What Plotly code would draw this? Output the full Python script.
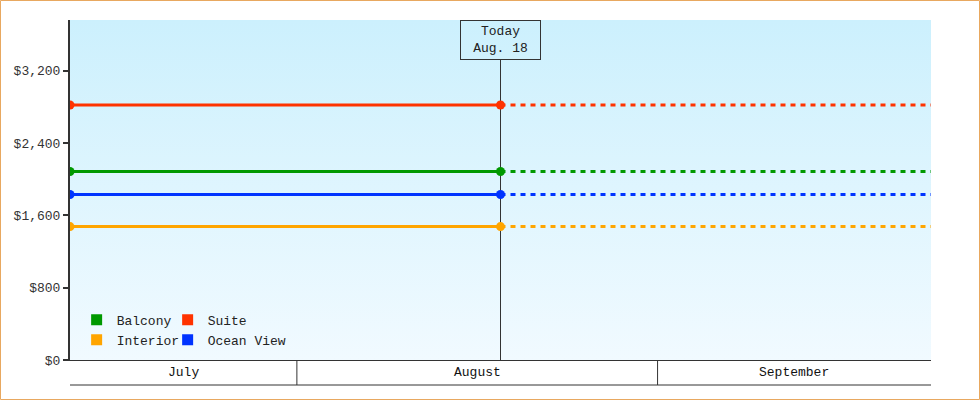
import pandas as pd
import plotly.graph_objects as go

# room types and their current price (flat line up to today, projected after)
room_types = ["Balcony", "Suite", "Interior", "Ocean View"]
prices = [2085, 2820, 1475, 1830]
line_colors = ["#009900", "#ff3300", "#ffa500", "#0033ff"]
legend_group = ["legend", "legend2", "legend", "legend2"]

today = pd.Timestamp("2024-08-18 12:00")
today_label = "Today<br>Aug. 18"
window_days = 37
months = ["July", "August", "September"]
month_starts = ["2024-07-01", "2024-08-01", "2024-09-01", "2024-10-01"]

y_max = 3760
y_ticks = [0, 800, 1600, 2400, 3200]

W, H = 980, 400
L, R, T, B = 70, 49, 20, 40
PW, PH = W - L - R, H - T - B

x_start = today - pd.Timedelta(days=window_days)
x_end = today + pd.Timedelta(days=window_days)

FONT = "Liberation Mono, DejaVu Sans Mono, monospace"
DARK = "#333333"

fig = go.Figure()

# gradient background of the plot area
fig.add_trace(go.Scatter(
    x=[x_start, x_end, x_end, x_start], y=[0, 0, y_max, y_max],
    fill="toself", mode="none", hoverinfo="skip", showlegend=False,
    fillgradient=dict(type="vertical",
                      colorscale=[[0, "#f1faff"], [1, "#ccf0fd"]]),
))

# today line (stops under the label box)
box_frac = (PH - 40) / PH
fig.add_trace(go.Scatter(
    x=[today, today], y=[0, y_max * box_frac], mode="lines",
    line=dict(color=DARK, width=1), hoverinfo="skip", showlegend=False,
))

for name, p, c in zip(room_types, prices, line_colors):
    fig.add_trace(go.Scatter(
        x=[today, x_end], y=[p, p], mode="lines",
        line=dict(color=c, width=3, dash="5px,5px"),
        hoverinfo="skip", showlegend=False,
    ))
    fig.add_trace(go.Scatter(
        x=[x_start, today], y=[p, p], mode="lines+markers", name=name,
        line=dict(color=c, width=3), marker=dict(size=9, color=c),
        showlegend=False,
    ))

for name, c, lg in zip(room_types, line_colors, legend_group):
    fig.add_trace(go.Scatter(
        x=[None], y=[None], mode="markers", name=name, legend=lg,
        marker=dict(symbol="square", size=11, color=c),
    ))

shapes = []
band = -25 / PH
shapes.append(dict(type="line", xref="x", yref="paper", x0=x_start, x1=x_end,
                   y0=band, y1=band, line=dict(color=DARK, width=1)))
annotations = []
for i, m in enumerate(months):
    s = max(pd.Timestamp(month_starts[i]), x_start)
    e = min(pd.Timestamp(month_starts[i + 1]), x_end)
    if i > 0:
        shapes.append(dict(type="line", xref="x", yref="paper", x0=s, x1=s,
                           y0=0, y1=band, line=dict(color=DARK, width=1)))
    annotations.append(dict(x=s + (e - s) / 2, y=band / 2, xref="x", yref="paper",
                            text=m, showarrow=False, yanchor="middle",
                            font=dict(family=FONT, size=13, color="#111")))

annotations.append(dict(x=today, y=1, xref="x", yref="paper", text=today_label,
                        showarrow=False, yanchor="top", align="center",
                        width=73, height=32,
                        bordercolor=DARK, borderwidth=1, borderpad=3,
                        font=dict(family=FONT, size=13, color="#222")))

# orange frame round the whole picture
shapes.append(dict(type="rect", xref="paper", yref="paper",
                   x0=(0.5 - L) / PW, x1=(W - 0.5 - L) / PW,
                   y0=(PH - (H - 0.5 - T)) / PH, y1=(PH - (0.5 - T)) / PH,
                   line=dict(color="#e8a860", width=1)))

legend_style = dict(y=0.015, xanchor="left", yanchor="bottom",
                    bgcolor="rgba(0,0,0,0)",
                    font=dict(family=FONT, size=13, color="#222"),
                    itemwidth=30, tracegroupgap=0)

fig.update_layout(
    width=W, height=H,
    margin=dict(l=L, r=R, t=T, b=B),
    paper_bgcolor="white", plot_bgcolor="white",
    font=dict(family=FONT, size=13, color=DARK),
    shapes=shapes, annotations=annotations,
    legend=dict(x=0.0077, **legend_style),
    legend2=dict(x=0.1134, **legend_style),
    xaxis=dict(type="date", range=[x_start, x_end], showticklabels=False,
               showgrid=False, zeroline=False, showline=True,
               linecolor=DARK, linewidth=1, ticks=""),
    yaxis=dict(range=[0, y_max], tickvals=y_ticks,
               ticktext=[f"${v:,}" for v in y_ticks],
               showgrid=False, zeroline=False, showline=True, linecolor=DARK,
               linewidth=2, ticks="outside", ticklen=5, tickwidth=2, tickcolor=DARK),
)

fig.write_html("out.html", config={"displayModeBar": False},
               post_script="document.body.style.margin='0';")
